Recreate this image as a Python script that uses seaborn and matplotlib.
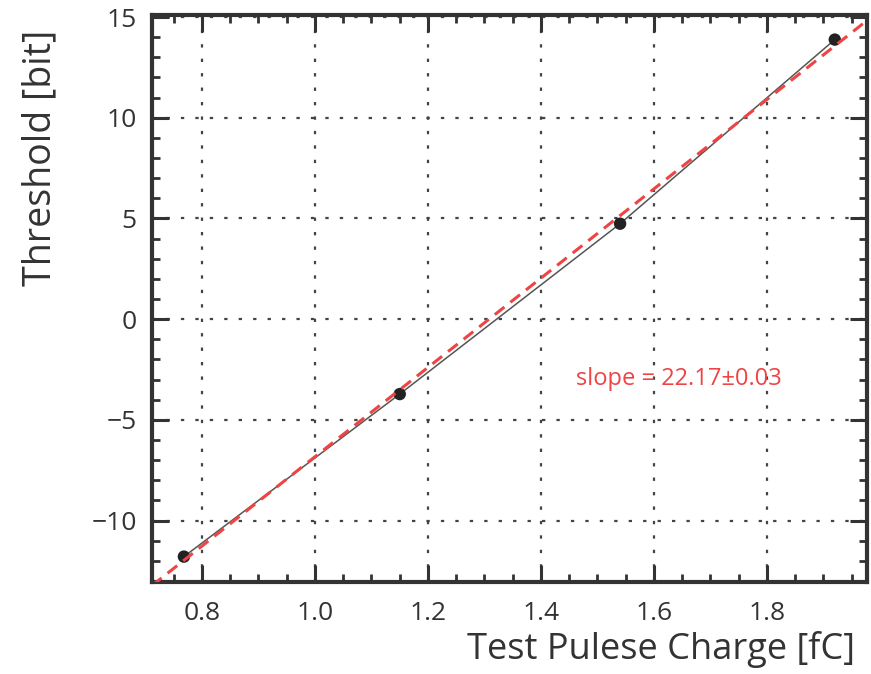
import matplotlib
matplotlib.use("Agg")
import matplotlib.pyplot as plt
from matplotlib.ticker import MultipleLocator
import seaborn as sns
import pandas as pd
import numpy as np

# data
charge = [0.768, 1.150, 1.540, 1.920]
threshold = [-11.79, -3.72, 4.74, 13.88]
fit_slope = 22.17
fit_intercept = -29.0
slope_err = 0.03
x_label = "Test Pulese Charge [fC]"
y_label = "Threshold [bit]"

sns.set_theme(style="white")
plt.rcParams['font.family'] = ['Open Sans', 'DejaVu Sans']

dark = "#333333"
red = "#ee4444"

fig = plt.figure(figsize=(8.71, 6.74), dpi=100)
ax = fig.add_axes([0.1745, 0.1365, 0.9954 - 0.1745, 0.9777 - 0.1365])

xmin, xmax = 0.7115, 1.977
ymin, ymax = -13.05, 15.1

df = pd.DataFrame({"charge": charge, "threshold": threshold})
fx = np.array([xmin, xmax])
fit_df = pd.DataFrame({"x": fx, "y": fit_slope * fx + fit_intercept})

sns.lineplot(data=df, x="charge", y="threshold", ax=ax, color="#555555",
             linewidth=1.1, sort=False, zorder=3)
sns.scatterplot(data=df, x="charge", y="threshold", ax=ax, color="#222222",
                s=80, edgecolor="none", zorder=4)
sns.lineplot(data=fit_df, x="x", y="y", ax=ax, color=red, linewidth=2.2,
             linestyle=(0, (4, 2.5)), zorder=5)

ax.set_xlim(xmin, xmax)
ax.set_ylim(ymin, ymax)

ax.xaxis.set_major_locator(MultipleLocator(0.2))
ax.xaxis.set_minor_locator(MultipleLocator(0.05))
ax.yaxis.set_major_locator(MultipleLocator(5))
ax.yaxis.set_minor_locator(MultipleLocator(1))
ax.xaxis.set_major_formatter(matplotlib.ticker.FuncFormatter(lambda v, p: f"{v:.1f}"))
ax.yaxis.set_major_formatter(matplotlib.ticker.FuncFormatter(
    lambda v, p: (f"\u2212{abs(int(round(v)))}" if v < 0 else f"{int(round(v))}")))

ax.tick_params(which="both", direction="in", top=True, right=True,
               bottom=True, left=True, color=dark, labelcolor=dark,
               labelsize=19)
ax.tick_params(which="major", length=12, width=2.2, pad=14)
ax.tick_params(which="minor", length=6, width=2.0)
ax.tick_params(axis="y", which="major", pad=11)

for s in ax.spines.values():
    s.set_color(dark)
    s.set_linewidth(3)

ax.grid(True, which="major", color="#444444", linestyle=(0, (1.5, 5)),
        linewidth=1.6)
ax.set_axisbelow(True)

ax.set_xlabel(x_label, fontsize=26, color=dark, ha="right")
ax.xaxis.set_label_coords((855 - 152) / 715, -(650 - 582) / 567)
ax.xaxis.label.set_va("center")
ax.set_ylabel(y_label, fontsize=27, color=dark, ha="right")
ax.yaxis.set_label_coords(-(152 - 40) / 715, (582 - 30) / 567)
ax.yaxis.label.set_va("center")

ax.text(1.462, -2.95, f"slope = {fit_slope:.2f}\u00b1{slope_err:.2f}",
        color=red, fontsize=17, va="center", ha="left", zorder=6)

fig.savefig("out.png", dpi=100)
